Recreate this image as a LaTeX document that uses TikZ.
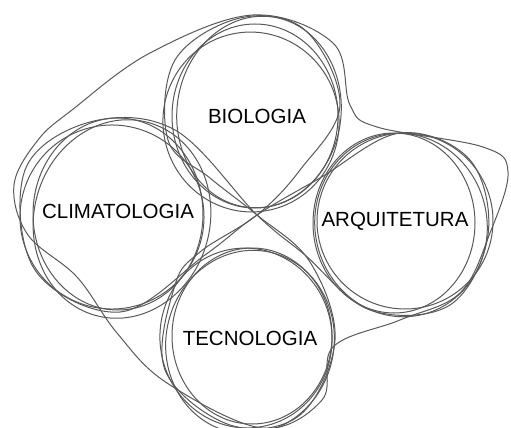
\documentclass[tikz,border=0pt]{standalone}
\usepackage{fontspec}
\setmainfont{Liberation Sans}
\usetikzlibrary{calc}

\begin{document}
\begin{tikzpicture}[
        x=1pt, y=-1pt,
        field/.style={font=\fontsize{20.5}{20.5}\selectfont, inner sep=0pt},
        sketch/.style={draw=black!65, line width=1pt},
        loop/.style={sketch, smooth cycle, tension=0.6}
    ]
        \useasboundingbox (0,0) rectangle (511,428);

        % Field labels
        \node (bio) [field] at (257,116) {BIOLOGIA};
        \node (clim) [field] at (118,211) {CLIMATOLOGIA};
        \node (arq) [field] at (395,221) {ARQUITETURA};
        \node (tec) [field] at (250,338) {TECNOLOGIA};
        \coordinate (mid) at (257,215);

        % Circles, each drawn a few times by hand
        \foreach \dx/\dy/\rx/\ry/\rot in {-2/0/83/92/0, -6/6/88/90/10, 2/-4/82/96/-8}
            \draw [sketch] ($(bio)+(\dx,\dy)$) ellipse [x radius=\rx, y radius=\ry, rotate=\rot];
        \foreach \dx/\dy/\rx/\ry/\rot in {0/3/85/96/0, -6/6/92/92/20, 4/8/88/100/-15}
            \draw [sketch] ($(clim)+(\dx,\dy)$) ellipse [x radius=\rx, y radius=\ry, rotate=\rot];
        \foreach \dx/\dy/\rx/\ry/\rot in {-1/2/81/90/0, 6/4/86/92/12, 10/0/88/88/-10}
            \draw [sketch] ($(arq)+(\dx,\dy)$) ellipse [x radius=\rx, y radius=\ry, rotate=\rot];
        \foreach \dx/\dy/\rx/\ry/\rot in {2/-2/80/88/0, -4/0/86/90/8, 0/4/84/92/-12}
            \draw [sketch] ($(tec)+(\dx,\dy)$) ellipse [x radius=\rx, y radius=\ry, rotate=\rot];

        % Loop through the middle: climatologia and arquitetura
        \draw [loop] plot coordinates {(mid) (305,255) (370,310) (450,305) (488,235) (470,160) (400,133) (320,178)
            (mid) (205,255) (120,312) (35,270) (25,170) (90,122) (175,130)};
        % Loop through the middle: biologia and tecnologia
        \draw [loop] plot coordinates {(mid) (300,170) (340,105) (305,30) (240,18) (175,60) (168,140) (210,178)
            (mid) (310,262) (335,340) (300,415) (230,425) (165,370) (175,285) (200,252)};

        % Outer outline round all four
        \draw [loop] plot coordinates {(72,110) (150,53) (253,15) (333,43) (350,105) (377,127) (483,147) (508,172)
            (490,233) (460,293) (400,320) (333,347) (322,400) (262,428) (167,383) (117,333) (77,277) (28,235)
            (14,185) (38,140)};

    \end{tikzpicture}
\end{document}
